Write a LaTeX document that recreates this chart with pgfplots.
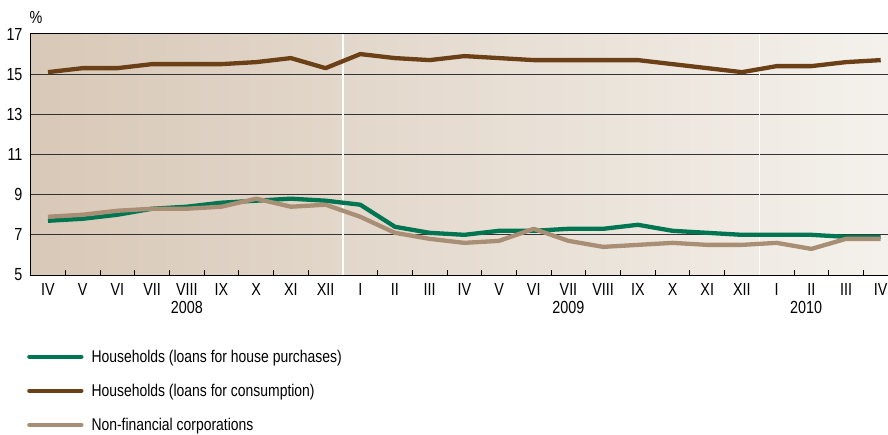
\documentclass[border=0pt]{standalone}
\usepackage{fontspec}
\setmainfont{Liberation Sans}[FakeStretch=0.82]
\usepackage{pgfplots}
\pgfplotsset{compat=1.18}
\usepackage{pgfplotstable}
\definecolor{cgreen}{HTML}{007552}
\definecolor{cbrown}{HTML}{6B4016}
\definecolor{ctan}{HTML}{A88E74}
\definecolor{bgL}{HTML}{D8C8B7}
\definecolor{bgR}{HTML}{F4F1EC}
\definecolor{gridc}{HTML}{333333}
\pgfplotstableread{
i house cons nfc
0 7.7 15.1 7.9
1 7.8 15.3 8.0
2 8.0 15.3 8.2
3 8.3 15.5 8.3
4 8.4 15.5 8.3
5 8.6 15.5 8.4
6 8.7 15.6 8.8
7 8.8 15.8 8.4
8 8.7 15.3 8.5
9 8.5 16.0 7.9
10 7.4 15.8 7.1
11 7.1 15.7 6.8
12 7.0 15.9 6.6
13 7.2 15.8 6.7
14 7.2 15.7 7.3
15 7.3 15.7 6.7
16 7.3 15.7 6.4
17 7.5 15.7 6.5
18 7.2 15.5 6.6
19 7.1 15.3 6.5
20 7.0 15.1 6.5
21 7.0 15.4 6.6
22 7.0 15.4 6.3
23 6.9 15.6 6.8
24 6.9 15.7 6.8
}\datatable
\begin{document}
\begin{tikzpicture}[x=1pt,y=1pt]
\useasboundingbox (0,0) rectangle (888,434);
\begin{axis}[
  at={(30pt,159pt)}, anchor=south west,
  scale only axis, width=858pt, height=241pt,
  xmin=-0.519, xmax=24.21, ymin=5, ymax=17,
  axis x line*=box, axis y line*=left,
  axis line style={black, line width=1pt},
  clip=false,
  axis background/.style={left color=bgL, right color=bgR},
  xtick={0,...,24},
  xticklabels={IV,V,VI,VII,VIII,IX,X,XI,XII,I,II,III,IV,V,VI,VII,VIII,IX,X,XI,XII,I,II,III,IV},
  major x tick style={draw=none},
  minor x tick num=1,
  minor tick length=5pt,
  minor x tick style={black, line width=0.8pt},
  tick align=inside,
  xtick pos=bottom,
  ytick={5,7,...,17},
  major y tick style={draw=none},
  ytick pos=left,
  ymajorgrids,
  major grid style={gridc, line width=1pt},
  tick label style={font=\fontsize{17.5}{20}\selectfont, black},
  yticklabel style={/pgf/number format/assume math mode=true, xshift=-4pt},
  xticklabel style={yshift=-4.5pt},
  legend style={at={(axis description cs:-0.0035,-0.301)}, anchor=north west, draw=none, fill=none,
    font=\fontsize{17}{20}\selectfont, row sep=16.3pt, legend cell align=left,
    inner sep=0pt,
    /tikz/every odd column/.append style={column sep=6pt}},
  legend image code/.code={\draw[#1, line cap=round] (0pt,0pt) -- (52pt,0pt);},
  every axis plot/.append style={line width=4.3pt, line join=round},
]
\draw[white, line width=1.3pt] (axis cs:8.5,5) -- (axis cs:8.5,17);
\draw[white, line width=1.3pt] (axis cs:20.5,5) -- (axis cs:20.5,17);
\addplot[cgreen] table[x=i, y=house] {\datatable};
\addlegendentry{Households (loans for house purchases)}
\addplot[cbrown] table[x=i, y=cons] {\datatable};
\addlegendentry{Households (loans for consumption)}
\addplot[ctan] table[x=i, y=nfc] {\datatable};
\addlegendentry{Non-financial corporations}
\node[font=\fontsize{17.5}{20}\selectfont, anchor=north] at (axis cs:4,5) [yshift=-23pt] {2008};
\node[font=\fontsize{17.5}{20}\selectfont, anchor=north] at (axis cs:15,5) [yshift=-23pt] {2009};
\node[font=\fontsize{17.5}{20}\selectfont, anchor=north] at (axis cs:21.85,5) [yshift=-23pt] {2010};
\node[font=\fontsize{17.5}{20}\selectfont, anchor=south] at (rel axis cs:0,1) [xshift=6pt, yshift=7pt] {\%};
\end{axis}
\end{tikzpicture}
\end{document}
